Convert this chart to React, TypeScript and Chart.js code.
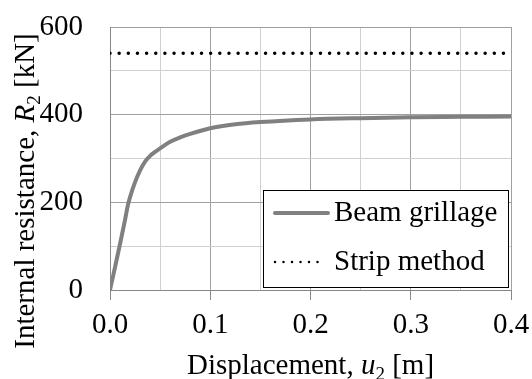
import React, { useEffect, useRef } from "react";
import { Chart, registerables } from "chart.js";

Chart.register(...registerables);

// ---- data ----
const displacement = [0, 0.005, 0.01, 0.015, 0.018, 0.02, 0.025, 0.03, 0.035, 0.04, 0.045, 0.05, 0.06, 0.07, 0.08, 0.1, 0.125, 0.15, 0.2, 0.25, 0.3, 0.35, 0.4];
const beamGrillage = [0, 52, 105, 160, 195, 212, 246, 273, 293, 306, 315, 323, 338, 348, 356, 369, 378, 383, 389, 392, 394, 395, 396];
const stripDisplacement = [0, 0.4];
const stripMethod = [540, 540];

const xTickValues = [0, 0.05, 0.1, 0.15, 0.2, 0.25, 0.3, 0.35, 0.4];
const xTickLabels = ["0.0", "", "0.1", "", "0.2", "", "0.3", "", "0.4"];
const yTickValues = [0, 100, 200, 300, 400, 500, 600];
const yTickLabels = ["0", "", "200", "", "400", "", "600"];

const seriesNames = ["Beam grillage", "Strip method"];

const FONT_FAMILY = "'Liberation Serif', 'DejaVu Serif', 'Times New Roman', Times, serif";
const FS = 29;
const MAJOR = "#a0a0a0";
const MINOR = "#d0d0d0";
const GRAY = "#808080";

const overlayPlugin = {
  id: "overlay",
  afterDraw(chart: any) {
    const { ctx, chartArea } = chart;
    const big = `${FS}px ${FONT_FAMILY}`;
    const bigItalic = `italic ${FS}px ${FONT_FAMILY}`;
    const sub = `19px ${FONT_FAMILY}`;

    const drawParts = (parts: any[], cx: number, baseY: number) => {
      let total = 0;
      for (const p of parts) {
        ctx.font = p.f;
        total += ctx.measureText(p.t).width;
      }
      let x = cx - total / 2;
      ctx.fillStyle = "#000";
      ctx.textBaseline = "alphabetic";
      ctx.textAlign = "left";
      for (const p of parts) {
        ctx.font = p.f;
        ctx.fillText(p.t, x, baseY + p.dy);
        x += ctx.measureText(p.t).width;
      }
    };

    // ---- X axis title ----
    const xParts = [
      { t: "Displacement, ", f: big, dy: 0 },
      { t: "u", f: bigItalic, dy: 0 },
      { t: "2", f: sub, dy: 6 },
      { t: " [m]", f: big, dy: 0 },
    ];
    ctx.save();
    drawParts(xParts, (chartArea.left + chartArea.right) / 2, 374);
    ctx.restore();

    // ---- Y axis title ----
    const yParts = [
      { t: "Internal resistance, ", f: big, dy: 0 },
      { t: "R", f: bigItalic, dy: 0 },
      { t: "2", f: sub, dy: 6 },
      { t: " [kN]", f: big, dy: 0 },
    ];
    ctx.save();
    ctx.translate(34, 191);
    ctx.rotate(-Math.PI / 2);
    drawParts(yParts, 0, 0);
    ctx.restore();

    // ---- Legend ----
    const lx = 263, ly = 190, lw = 245, lh = 97;
    ctx.save();
    ctx.fillStyle = "#fff";
    ctx.fillRect(lx, ly, lw, lh);
    ctx.strokeStyle = "#000";
    ctx.lineWidth = 1;
    ctx.strokeRect(lx + 0.5, ly + 0.5, lw, lh);

    const rows = [213, 262];
    ctx.strokeStyle = GRAY;
    ctx.lineWidth = 4;
    ctx.lineCap = "round";
    ctx.beginPath();
    ctx.moveTo(275, rows[0]);
    ctx.lineTo(328, rows[0]);
    ctx.stroke();

    ctx.strokeStyle = "#000";
    ctx.lineWidth = 2.5;
    ctx.setLineDash([0, 8.5]);
    ctx.beginPath();
    ctx.moveTo(275, rows[1]);
    ctx.lineTo(320, rows[1]);
    ctx.stroke();
    ctx.setLineDash([]);

    ctx.fillStyle = "#000";
    ctx.font = big;
    ctx.textBaseline = "middle";
    ctx.textAlign = "left";
    ctx.fillText(seriesNames[0], 334, rows[0]);
    ctx.fillText(seriesNames[1], 334, rows[1]);
    ctx.restore();
  },
};

const isMajorX = (i: number) => xTickLabels[i] !== "";
const isMajorY = (i: number) => yTickLabels[i] !== "";

export default function App() {
  const ref = useRef<HTMLCanvasElement | null>(null);

  useEffect(() => {
    if (!ref.current) return;
    const chart = new Chart(ref.current, {
      type: "line",
      data: {
        datasets: [
          {
            label: seriesNames[1],
            data: stripDisplacement.map((x, i) => ({ x, y: stripMethod[i] })),
            borderColor: "#000",
            borderWidth: 3.5,
            borderDash: [0, 9.15],
            borderCapStyle: "round",
            pointRadius: 0,
            fill: false,
          },
          {
            label: seriesNames[0],
            data: displacement.map((x, i) => ({ x, y: beamGrillage[i] })),
            borderColor: GRAY,
            borderWidth: 4,
            pointRadius: 0,
            cubicInterpolationMode: "monotone",
            fill: false,
          },
        ],
      },
      options: {
        animation: false,
        responsive: false,
        devicePixelRatio: 1,
        layout: { padding: { left: 0, top: 27, right: 21, bottom: 0 } },
        plugins: {
          legend: { display: false },
          tooltip: { enabled: false },
          title: { display: false },
        },
        scales: {
          x: {
            type: "linear",
            min: 0,
            max: 0.4,
            afterBuildTicks: (s: any) => {
              s.ticks = xTickValues.map((v) => ({ value: v }));
            },
            afterFit: (s: any) => {
              s.height = 89;
              s.paddingLeft = 0;
              s.paddingRight = 0;
              s.paddingTop = 0;
              s.paddingBottom = 0;
            },
            ticks: {
              autoSkip: false,
              maxRotation: 0,
              minRotation: 0,
              padding: 8,
              color: "#000",
              font: { family: FONT_FAMILY, size: FS },
              callback: (_v: any, i: number) => xTickLabels[i],
            },
            grid: {
              color: (c: any) => (isMajorX(c.index) ? MAJOR : MINOR),
              tickColor: (c: any) => (isMajorX(c.index) ? "#888" : "rgba(0,0,0,0)"),
              tickLength: 10,
              lineWidth: 1,
            },
            border: { color: "#888", width: 1 },
          },
          y: {
            type: "linear",
            min: 0,
            max: 600,
            afterBuildTicks: (s: any) => {
              s.ticks = yTickValues.map((v) => ({ value: v }));
            },
            afterFit: (s: any) => {
              s.width = 110;
              s.paddingLeft = 0;
              s.paddingRight = 0;
              s.paddingTop = 0;
              s.paddingBottom = 0;
            },
            ticks: {
              autoSkip: false,
              padding: 3,
              color: "#000",
              font: { family: FONT_FAMILY, size: FS },
              callback: (_v: any, i: number) => yTickLabels[i],
            },
            grid: {
              color: (c: any) => (isMajorY(c.index) ? MAJOR : MINOR),
              drawTicks: true,
              tickLength: 24,
              tickColor: "rgba(0,0,0,0)",
              lineWidth: 1,
            },
            border: { color: "#888", width: 1 },
          },
        },
      },
      plugins: [overlayPlugin],
    } as any);
    let alive = true;
    const fonts: any = (document as any).fonts;
    if (fonts && fonts.load) {
      Promise.all([
        fonts.load(`${FS}px 'Liberation Serif'`),
        fonts.load(`italic ${FS}px 'Liberation Serif'`),
      ])
        .then(() => {
          if (alive) chart.update();
        })
        .catch(() => {});
    }
    return () => {
      alive = false;
      chart.destroy();
    };
  }, []);

  return (
    <div style={{ position: "absolute", left: 0, top: 0, width: 532, height: 379, background: "#fff" }}>
      <canvas ref={ref} width={532} height={379} style={{ display: "block" }} />
    </div>
  );
}
